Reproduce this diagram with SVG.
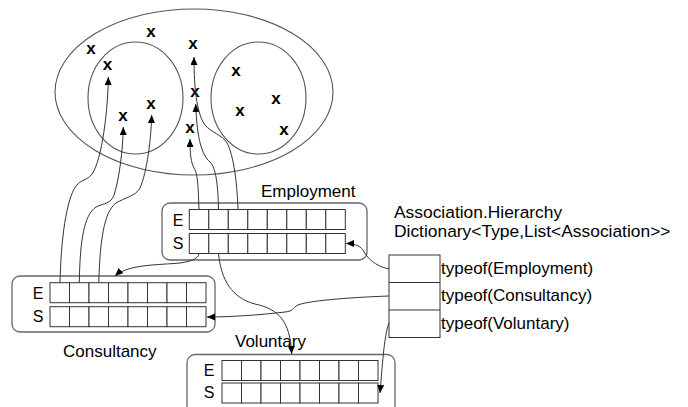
<svg xmlns="http://www.w3.org/2000/svg" width="688" height="407" viewBox="0 0 688 407">
  <style>
    text { font-family: "Liberation Sans", Arial, sans-serif; fill: #000; }
    .lbl { font-size: 17px; }
    .title { font-size: 17.4px; }
    .row { font-size: 16px; }
    .mark { font-size: 17px; font-weight: bold; text-anchor: middle; }
    .set { fill: none; stroke: #555; stroke-width: 1.1; }
    .box { fill: none; stroke: #666; stroke-width: 1.3; }
    .cell { fill: #fff; stroke: #333; stroke-width: 1; }
    .conn { fill: none; stroke: #333; stroke-width: 1; marker-end: url(#arrow); }
  </style>
  <defs>
    <marker id="arrow" markerUnits="userSpaceOnUse" markerWidth="9" markerHeight="8" refX="8" refY="3.5" orient="auto">
      <path d="M0,0 L8,3.5 L0,7 z" fill="#000"/>
    </marker>
    <!-- one row of eight slots -->
    <g id="slots">
      <rect class="cell" x="0" y="0" width="19.5" height="20"/>
      <rect class="cell" x="19.5" y="0" width="19.5" height="20"/>
      <rect class="cell" x="39" y="0" width="19.5" height="20"/>
      <rect class="cell" x="58.5" y="0" width="19.5" height="20"/>
      <rect class="cell" x="78" y="0" width="19.5" height="20"/>
      <rect class="cell" x="97.5" y="0" width="19.5" height="20"/>
      <rect class="cell" x="117" y="0" width="19.5" height="20"/>
      <rect class="cell" x="136.5" y="0" width="19.5" height="20"/>
    </g>
  </defs>

  <!-- sets of objects -->
  <g id="sets">
    <ellipse class="set" cx="194" cy="92" rx="139" ry="83"/>
    <ellipse class="set" cx="135.5" cy="98" rx="47.5" ry="56"/>
    <ellipse class="set" cx="258.5" cy="98" rx="47.5" ry="56"/>
    <text class="mark" x="91" y="53.5">x</text>
    <text class="mark" x="151" y="36.5">x</text>
    <text class="mark" x="107.5" y="70">x</text>
    <text class="mark" x="151" y="108.5">x</text>
    <text class="mark" x="123" y="120.5">x</text>
    <text class="mark" x="193" y="48.5">x</text>
    <text class="mark" x="195" y="96.5">x</text>
    <text class="mark" x="190" y="132.5">x</text>
    <text class="mark" x="236" y="76">x</text>
    <text class="mark" x="276" y="103.5">x</text>
    <text class="mark" x="240" y="115.5">x</text>
    <text class="mark" x="284" y="134.5">x</text>
  </g>

  <!-- Employment -->
  <g id="employment">
    <rect class="box" x="162" y="203" width="205" height="57" rx="8"/>
    <use href="#slots" x="189.3" y="209.5"/>
    <use href="#slots" x="189.3" y="233.5"/>
    <text class="row" x="178" y="226" text-anchor="middle">E</text>
    <text class="row" x="178" y="249" text-anchor="middle">S</text>
    <text class="lbl" x="261" y="197">Employment</text>
  </g>

  <!-- Consultancy -->
  <g id="consultancy">
    <rect class="box" x="12" y="276" width="203" height="56" rx="8"/>
    <use href="#slots" x="50" y="282.7"/>
    <use href="#slots" x="50" y="306.7"/>
    <text class="row" x="38" y="298.5" text-anchor="middle">E</text>
    <text class="row" x="38" y="321.5" text-anchor="middle">S</text>
    <text class="lbl" x="63" y="357">Consultancy</text>
  </g>

  <!-- Voluntary -->
  <g id="voluntary">
    <rect class="box" x="187" y="354.5" width="208" height="62" rx="8"/>
    <use href="#slots" x="222" y="360.5"/>
    <use href="#slots" x="222" y="383"/>
    <text class="row" x="209" y="376" text-anchor="middle">E</text>
    <text class="row" x="209" y="398" text-anchor="middle">S</text>
    <text class="lbl" x="235" y="347">Voluntary</text>
  </g>

  <!-- Association.Hierarchy dictionary -->
  <g id="hierarchy">
    <text class="title" x="394" y="218">Association.Hierarchy</text>
    <text class="title" x="394" y="237">Dictionary&lt;Type,List&lt;Association&gt;&gt;</text>
    <rect class="cell" x="389" y="255" width="51" height="82.5" stroke="#555"/>
    <line x1="389" y1="282.5" x2="440" y2="282.5" stroke="#333"/>
    <line x1="389" y1="310" x2="440" y2="310" stroke="#333"/>
    <text class="lbl" x="441" y="273.5">typeof(Employment)</text>
    <text class="lbl" x="441" y="301">typeof(Consultancy)</text>
    <text class="lbl" x="441" y="328.5">typeof(Voluntary)</text>
  </g>

  <!-- connectors -->
  <g id="connectors">
    <!-- Consultancy E slots to objects -->
    <path class="conn" d="M60,282.7 C61,240 66,200 76,186 C80,180 88,180 92,174 C102,160 108,110 108.3,77"/>
    <path class="conn" d="M79.3,282.7 C80,240 84,215 96,207 C104,203 111,204 114,195 C119,180 123,150 123.3,127"/>
    <path class="conn" d="M98.8,282.7 C100,240 104,212 116,203 C124,198 136,196 140,188 C147,172 151,140 151.7,115"/>
    <!-- Employment E slots to objects -->
    <path class="conn" d="M199,209.5 C198,185 198,175 194,168 C191,162 190,155 190,139"/>
    <path class="conn" d="M218.5,209.5 C218,185 216,168 210,162 C202,155 197,140 195.7,104"/>
    <path class="conn" d="M238,209.5 C237,180 233,150 225,140 C218,133 208,131 203,122 C197,110 194,90 194,57"/>
    <!-- Employment S slots to other lists -->
    <path class="conn" d="M199,253.5 C198,259 192,261 180,263 C160,265 128,264 115,276"/>
    <path class="conn" d="M218.5,253.5 C221,280 232,298 255,304 C278,309 290,320 291.7,354"/>
    <!-- dictionary entries to S lists -->
    <path class="conn" d="M389,269 C375,266 367,258 363,250 C359,245 353,243.5 346,243.5"/>
    <path class="conn" d="M389,296 C360,297 310,300 298,305 C292,308 294,311 285,312 C260,315 230,317 207,317"/>
    <path class="conn" d="M389,323 C384,335 382,370 380,393"/>
  </g>
</svg>
